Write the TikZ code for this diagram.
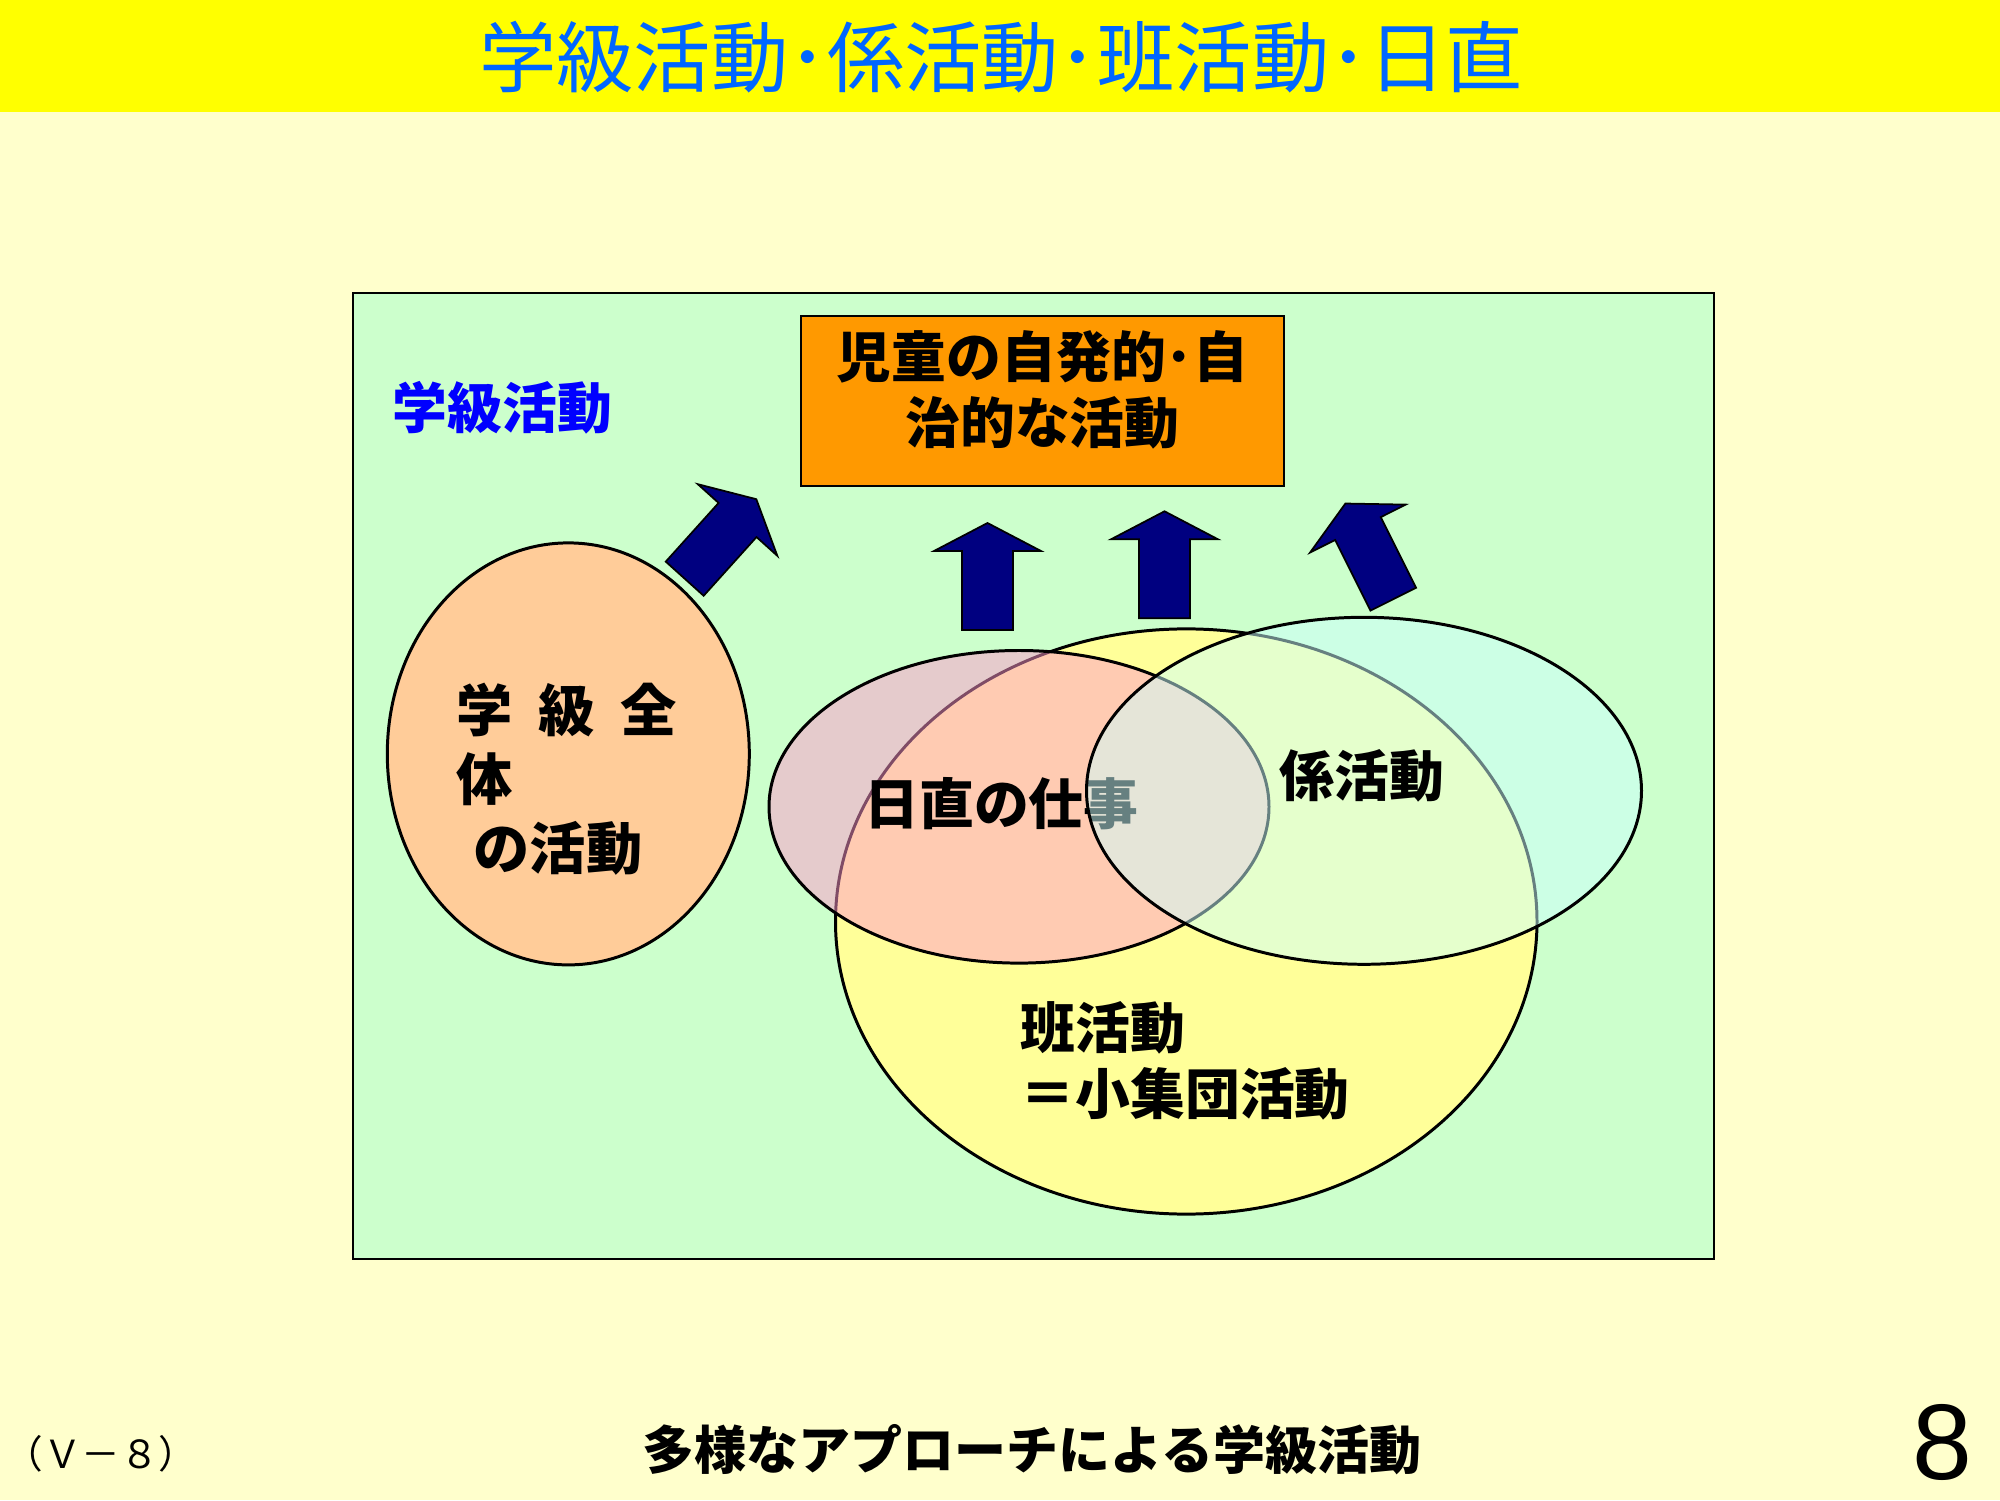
\documentclass[tikz,border=0pt]{standalone}
\usepackage{fontspec}
\newfontfamily\jp{Noto Sans CJK JP}[BoldFont={Noto Sans CJK JP Black}]
\newfontfamily\arial{Liberation Sans}
\usetikzlibrary{shapes.geometric}
\definecolor{pagebg}{HTML}{FFFFCC}
\definecolor{titlebar}{HTML}{FFFF00}
\definecolor{titleblue}{HTML}{0066FF}
\definecolor{labelblue}{HTML}{0000FF}
\definecolor{classgreen}{HTML}{CCFFCC}
\definecolor{goalorange}{HTML}{FF9900}
\definecolor{wholeorange}{HTML}{FFCC99}
\definecolor{hanyellow}{HTML}{FFFF99}
\definecolor{nicchokupink}{HTML}{FF99CC}
\definecolor{kakaricyan}{HTML}{CCFFFF}
\definecolor{arrownavy}{HTML}{000080}

\tikzset{
  upblock/.pic={
    \draw[draw=black,line width=0.5pt,fill=arrownavy] (0,-0.255) -- (0.79,-0.255) -- (0.79,-0.535) -- (1.07,0)
      -- (0.79,0.535) -- (0.79,0.255) -- (0,0.255) -- cycle;
  }
}

\begin{document}
\begin{tikzpicture}[
  venn/.style={ellipse,draw=black,line width=0.85pt,inner sep=0pt},
  heavy/.style={font=\jp\bfseries\fontsize{15.6}{18.8}\selectfont,inner sep=0pt},
]
  % Page
  \fill[pagebg] (0,0) rectangle (20,15);
  \fill[titlebar] (0,13.88) rectangle (20,15);
  \node[font=\jp\fontsize{22}{26}\selectfont,titleblue,inner sep=0pt] (title) at (10.01,14.43) {学級活動･係活動･班活動･日直};

  % Class activities frame
  \draw[black,line width=0.7pt,fill=classgreen] (3.53,2.41) rectangle (17.14,12.07);
  \node[heavy,labelblue] (classlabel) at (5.025,10.92) {学級活動};

  % Goal box
  \node[draw=black,line width=0.7pt,fill=goalorange,minimum width=4.83cm,minimum height=1.70cm] (goal) at (10.425,10.99) {};
  \node[heavy,align=center,text=black] (goaltext) at (10.425,11.10) {児童の自発的･自\\治的な活動};

  % Whole class
  \node[venn,fill=wholeorange,minimum width=3.62cm,minimum height=4.22cm] (whole) at (5.683,7.461) {};
  \node[heavy,align=left,font=\jp\bfseries\fontsize{16}{19.6}\selectfont] (wholetext) at (5.67,7.21)
    {学\hspace{0.46em}級\hspace{0.46em}全\\体\\\hspace{0.3em}の活動};

  % Venn: han, nicchoku, kakari
  \node[venn,fill=hanyellow,minimum width=7.015cm,minimum height=5.852cm] (han) at (11.8625,5.785) {};
  \node[venn,fill=nicchokupink,fill opacity=0.5,minimum width=5.0cm,minimum height=3.126cm] (nicchoku) at (10.19,6.932) {};
  \node[heavy] (nicchokutext) at (10.015,6.964) {日直の仕事};
  \node[venn,fill=kakaricyan,fill opacity=0.5,minimum width=5.55cm,minimum height=3.47cm] (kakari) at (13.64,7.092) {};
  \node[heavy] (kakaritext) at (13.62,7.245) {係活動};
  \node[heavy,align=left,anchor=west] (hantext) at (10.20,4.39) {班活動\\＝小集団活動};

  % Arrows up to the goal
  \pic[rotate=48] at (6.847,9.213) {upblock};
  \pic[rotate=90] at (9.875,8.70) {upblock};
  \pic[rotate=90] at (11.645,8.817) {upblock};
  \pic[rotate=116.6] at (13.933,9.008) {upblock};

  % Footer
  \node[heavy,font=\jp\bfseries\fontsize{14.8}{17}\selectfont] (footer) at (10.32,0.50) {多様なアプローチによる学級活動};
  \node[font=\jp\fontsize{11}{12}\selectfont,inner sep=0pt] (slideref) at (1.01,0.46) {（Ｖ－８）};
  \node[font=\arial\fontsize{30.6}{34}\selectfont,inner sep=0pt] (pageno) at (19.42,0.58) {8};
\end{tikzpicture}
\end{document}
